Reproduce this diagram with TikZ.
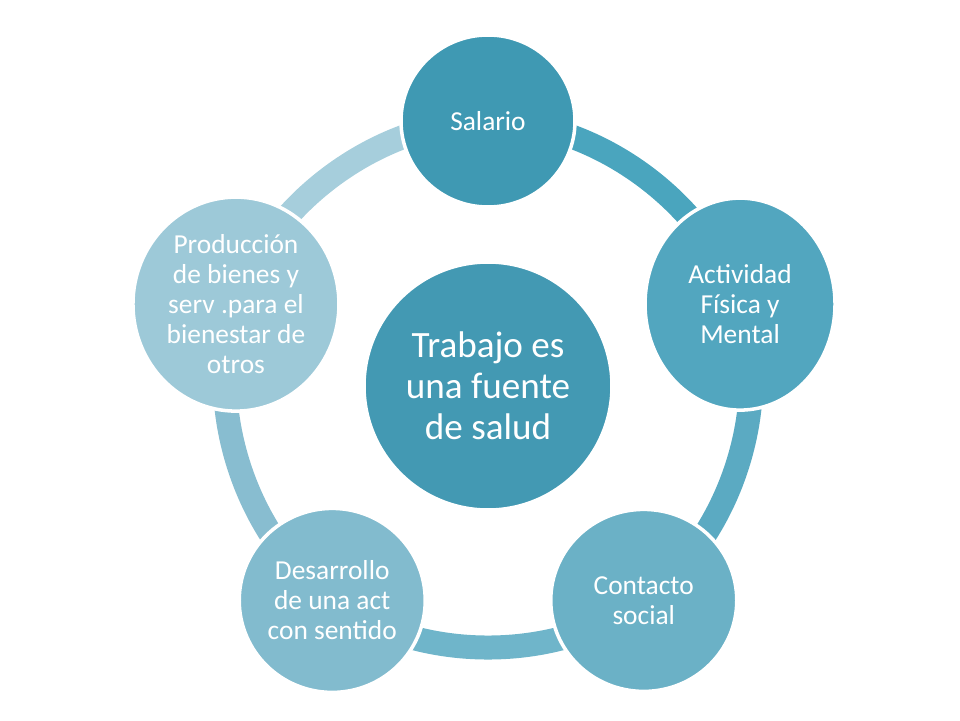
\documentclass[tikz,border=0pt]{standalone}
\usepackage{fontspec}
\setmainfont{Carlito}
\usetikzlibrary{shapes.geometric,backgrounds}
\definecolor{CoreTeal}{HTML}{4399B3}
\definecolor{SalarioTeal}{HTML}{3F99B3}
\definecolor{ActTeal}{HTML}{52A6BF}
\definecolor{ContTeal}{HTML}{6BB1C6}
\definecolor{DesTeal}{HTML}{82BBCE}
\definecolor{ProdTeal}{HTML}{9DC9D8}
\definecolor{RingA}{HTML}{4AA5BE}
\definecolor{RingB}{HTML}{5BAAC2}
\definecolor{RingC}{HTML}{6FB5CA}
\definecolor{RingD}{HTML}{88BDD0}
\definecolor{RingE}{HTML}{A6CEDC}

\begin{document}
\begin{tikzpicture}[
    bubble/.style={
      ellipse,
      inner sep=0pt,
      draw=white,
      line width=2.5pt,
      text=white,
      align=center,
      font=\fontsize{19.5}{21.3}\selectfont
    },
    ring/.style={line width=0.6cm, bend left=36, looseness=0.88}
  ]
    \useasboundingbox (-12.2,-8.35) rectangle (11.8,9.65);

    \node[bubble, fill=CoreTeal,
      minimum width=6.2cm, minimum height=6.2cm,
      font=\fontsize{26.4}{29.1}\selectfont
    ] (core) at (0,0) {Trabajo es\\una fuente\\de salud};

    \node[bubble, fill=SalarioTeal,
      minimum width=4.35cm, minimum height=4.3cm
    ] (salario) at (90:6.625) {Salario};

    \node[bubble, fill=ActTeal,
      minimum width=4.75cm, minimum height=5.3cm
    ] (actividad) at (18:6.625) {Actividad\\Física y\\Mental};

    \node[bubble, fill=ContTeal,
      minimum width=4.65cm, minimum height=4.55cm
    ] (contacto) at (-54:6.625) {Contacto\\social};

    \node[bubble, fill=DesTeal,
      minimum width=4.65cm, minimum height=4.6cm
    ] (desarrollo) at (-126:6.625) {Desarrollo\\de una act\\con sentido};

    \node[bubble, fill=ProdTeal,
      minimum width=5.15cm, minimum height=5.35cm
    ] (produccion) at (162:6.625) {Producción\\de bienes y\\serv .para el\\bienestar de\\otros};

    % ring behind the bubbles
    \begin{scope}[on background layer]
      \draw[ring, RingA] (salario.center) to (actividad.center);
      \draw[ring, RingB] (actividad.center) to (contacto.center);
      \draw[ring, RingC] (contacto.center) to (desarrollo.center);
      \draw[ring, RingD] (desarrollo.center) to (produccion.center);
      \draw[ring, RingE] (produccion.center) to (salario.center);
    \end{scope}
\end{tikzpicture}
\end{document}
